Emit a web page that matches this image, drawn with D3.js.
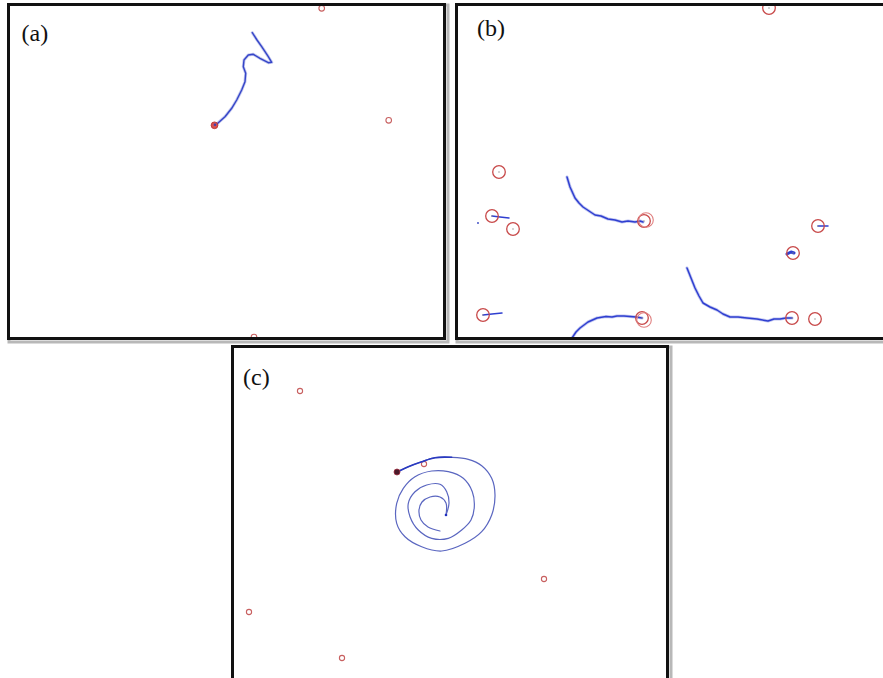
<!DOCTYPE html>
<html>
<head>
<meta charset="utf-8">
<script src="https://cdn.jsdelivr.net/npm/d3@7"></script>
<style>
  html, body { margin: 0; padding: 0; background: #fff; }
  svg { display: block; }
</style>
</head>
<body>
<svg id="chart" width="883" height="678"></svg>
<script>
// ---------- DATA (panel-local scene units, origin = panel's top-left corner) ----------
const panelLabels = ["(a)", "(b)", "(c)"];

// Panel (a)
const aTargets = [[314.7, 5.3], [381.7, 117.3], [247, 334]];
const aRobot = [207.5, 122.3];
const aTrail = [[245.3,29.7],[250,37],[254.7,43.7],[261.3,53.7],[264.7,59.3],[261.3,59.7],[253,55.3],
  [246.3,51.3],[241.3,52],[237,57],[236.3,63.7],[238.7,70.3],[238,78.7],[234.7,87],[229.7,97],
  [224.7,105.3],[218,113.7],[211.3,119.7],[208,123]];

// Panel (b)
const bTargets = [[314,5],[44,169],[37,213],[58,226],[189,218],[363,223],[338,250],[337,315],[360,316],[28,312],[187,315]];
const bTargetsDouble = [[191,217],[189,317]];
const bTrail1 = [[112,174],[115,184],[120,195],[124,200],[128,204],[134,208],[140,212],[146,213],[153,216],[160,217],[167,219],[173,218],[180,219],[185,218],[188,219]];
const bTrail2 = [[232,265],[236,275],[240,285],[244,293],[248,300],[255,304],[262,307],[268,311],[275,314],[283,314],[292,315],[302,316],[313,318],[319,316],[325,316],[331,315],[337,315]];
const bTrail3 = [[117,335],[121,329],[125,325],[133,319],[142,315],[151,313.5],[157,314],[162,313],[169,313],[175,313.5],[181,314],[187,315]];
const bTrail4 = [[37,213],[45,214],[54,215]];
const bTrail5 = [[28,312],[37,311],[47,310]];
const bTrail6 = [[363,223],[373,223]];
const bTrail7 = [[332,251],[336,249],[339,250]];
const bStray = [[23,220]];

// Panel (c)
const cTargets = [[69,46],[193,119],[313,234],[18,267],[111,313]];
const cRobot = [166,127];
const cSpiral = [[165.7,127.3],[177.3,121.7],[190.7,116.7],[204,112.7],[220.7,112.3],[237.3,114.3],[250.7,120.7],
  [260.7,133.3],[264,150],[260.7,170],[250.7,186.7],[234,198.3],[210.7,206],[190.7,201.7],[174,191.7],
  [165.7,178.3],[165.7,158.3],[172.3,143.3],[184,131.7],[200.7,126],[217.3,126.7],[232.3,133.3],
  [241.3,146.7],[243.3,161.7],[240,175],[230.7,185],[217.3,193.3],[200.7,193.3],[187.3,185],[179,171.7],
  [177.3,158.3],[184,146.7],[195.7,140],[209,139.3],[215.7,146.7],[218,158.3],[215,170]];
const cCurl = [[209,186],[197,182],[190,175],[188,165],[191,157],[199,152],[209,152],[215,158],[215,170]];

// ---------- LAYOUT ----------
const svg = d3.select("#chart");
const panels = [
  { id: "a", ox: 7, oy: 3, w: 439, h: 337, label: panelLabels[0], lx: 21.5, ly: 40.5 },
  { id: "b", ox: 455, oy: 3, w: 445, h: 337, label: panelLabels[1], lx: 477, ly: 35.5 },
  { id: "c", ox: 231, oy: 345, w: 438, h: 345, label: panelLabels[2], lx: 243, ly: 385 }
];

const defs = svg.append("defs");

function makePanel(p) {
  const g = svg.append("g");
  g.append("rect").attr("x", p.ox + 2).attr("y", p.oy + 2).attr("width", p.w).attr("height", p.h)
    .attr("fill", "none").attr("stroke", "#b8b8b8").attr("stroke-width", 3);
  g.append("rect").attr("x", p.ox + 1.5).attr("y", p.oy + 1.5).attr("width", p.w - 3).attr("height", p.h - 3)
    .attr("fill", "#fff").attr("stroke", "#111").attr("stroke-width", 3);
  defs.append("clipPath").attr("id", "clip-" + p.id).append("rect")
    .attr("x", p.ox + 3).attr("y", p.oy + 3).attr("width", p.w - 6).attr("height", p.h - 6);
  const x = d3.scaleLinear().domain([0, p.w]).range([p.ox, p.ox + p.w]);
  const y = d3.scaleLinear().domain([0, p.h]).range([p.oy, p.oy + p.h]);
  const content = g.append("g").attr("clip-path", "url(#clip-" + p.id + ")");
  g.append("text").attr("x", p.lx).attr("y", p.ly).text(p.label)
    .attr("font-family", "'Liberation Serif', 'Times New Roman', serif").attr("font-size", 24).attr("fill", "#111");
  return { content, x, y };
}

function drawTrail(P, pts, color, width, curve, fuzz) {
  const line = d3.line().x(d => P.x(d[0])).y(d => P.y(d[1])).curve(curve || d3.curveLinear);
  if (fuzz) {
    P.content.append("path").attr("d", line(pts)).attr("fill", "none")
      .attr("stroke", color).attr("stroke-opacity", 0.3).attr("stroke-width", width + 1.6)
      .attr("stroke-linejoin", "round").attr("stroke-linecap", "round");
  }
  P.content.append("path").attr("d", line(pts)).attr("fill", "none")
    .attr("stroke", color).attr("stroke-width", width).attr("stroke-linejoin", "round").attr("stroke-linecap", "round");
}
function drawTargets(P, pts, r, color, sw, centerDot) {
  const sel = P.content.selectAll(null).data(pts).enter();
  sel.append("circle").attr("cx", d => P.x(d[0])).attr("cy", d => P.y(d[1])).attr("r", r)
    .attr("fill", "none").attr("stroke", color).attr("stroke-width", sw);
  if (centerDot) {
    sel.append("circle").attr("cx", d => P.x(d[0])).attr("cy", d => P.y(d[1])).attr("r", 0.7)
      .attr("fill", "#888");
  }
}

// Panel (a)
const A = makePanel(panels[0]);
drawTargets(A, aTargets, 2.8, "#c86060", 1.1, false);
drawTrail(A, aTrail, "#3545c8", 1.4, d3.curveLinear, true);
A.content.append("circle").attr("cx", A.x(aRobot[0])).attr("cy", A.y(aRobot[1])).attr("r", 3.4)
  .attr("fill", "#d85050").attr("stroke", "#b03030").attr("stroke-width", 0.8);
A.content.append("circle").attr("cx", A.x(aRobot[0]) + 0.5).attr("cy", A.y(aRobot[1]) - 0.5).attr("r", 1.3)
  .attr("fill", "#4040b0");

// Panel (b)
const B = makePanel(panels[1]);
[bTrail1, bTrail2, bTrail3].forEach(t => drawTrail(B, t, "#2f3fd0", 1.5, d3.curveLinear, true));
[bTrail4, bTrail5, bTrail6].forEach(t => drawTrail(B, t, "#2f3fd0", 1.5));
drawTrail(B, bTrail7, "#2f3fd0", 3);
drawTargets(B, bTargets, 6.3, "#c84a4a", 1.3, true);
drawTargets(B, bTargetsDouble, 7.3, "#e08080", 1.1, false);
B.content.selectAll(null).data(bStray).enter().append("circle")
  .attr("cx", d => B.x(d[0])).attr("cy", d => B.y(d[1])).attr("r", 0.9).attr("fill", "#3040c0");

// Panel (c)
const C = makePanel(panels[2]);
drawTargets(C, cTargets, 2.6, "#c86060", 1.1, false);
drawTrail(C, cSpiral, "#5a66c0", 1.2, d3.curveCatmullRom);
drawTrail(C, cCurl, "#5a66c0", 1.2, d3.curveCatmullRom);
drawTrail(C, cSpiral.slice(0, 5), "#2a3ac0", 1.6, d3.curveCatmullRom);
C.content.append("circle").attr("cx", C.x(cSpiral[cSpiral.length - 1][0])).attr("cy", C.y(cSpiral[cSpiral.length - 1][1]))
  .attr("r", 1.3).attr("fill", "#2030c0");
C.content.append("circle").attr("cx", C.x(cRobot[0])).attr("cy", C.y(cRobot[1])).attr("r", 3)
  .attr("fill", "#4a1a2a").attr("stroke", "#a03040").attr("stroke-width", 0.8);
</script>
</body>
</html>
